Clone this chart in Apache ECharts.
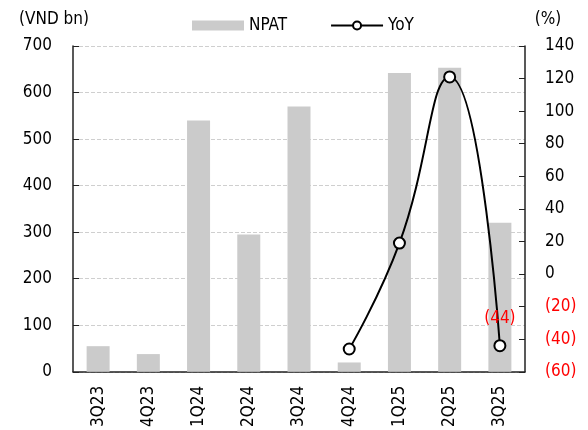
<!DOCTYPE html>
<html><head><meta charset="utf-8">
<script src="https://cdn.jsdelivr.net/npm/echarts@6/dist/echarts.min.js"></script>
<style>html,body{margin:0;padding:0;background:#fff}#c{width:588px;height:430px}</style>
</head><body><div id="c"></div>
<script>
const categories = ['3Q23','4Q23','1Q24','2Q24','3Q24','4Q24','1Q25','2Q25','3Q25'];
const npat = [55, 38, 540, 295, 570, 20, 642, 653, 320];
const yoy = [null, null, null, null, null, -46, 19, 121, -44];
const labelled = {8: '(44)'};
const F = 'DejaVu Sans Condensed';
const FS = 17;
const fmtNeg = v => v < 0 ? '(' + Math.abs(v) + ')' : String(v);
const chart = echarts.init(document.getElementById('c'));
chart.setOption({
  animation: false,
  textStyle: {fontFamily: F},
  grid: {left: 73, right: 63, top: 46, bottom: 57},
  legend: {
    top: 12, left: 187, itemGap: 43, itemWidth: 52, itemHeight: 10,
    textStyle: {fontFamily: F, fontSize: FS, color: '#000'},
    data: [{name: 'NPAT', icon: 'rect'}, {name: 'YoY'}]
  },
  xAxis: {
    type: 'category', data: categories,
    axisLine: {lineStyle: {color: '#222', width: 1.5}},
    axisTick: {inside: true, length: 6, lineStyle: {color: '#222'}},
    axisLabel: {rotate: 90, fontFamily: F, fontSize: FS, color: '#000', margin: 14}
  },
  yAxis: [{
    type: 'value', min: 0, max: 700, interval: 100,
    name: '(VND bn)', nameLocation: 'end', nameGap: 18,
    nameTextStyle: {fontFamily: F, fontSize: FS, color: '#000', align: 'center', padding: [0, 0, 0, -38]},
    axisLine: {show: true, lineStyle: {color: '#222', width: 1.5}},
    axisTick: {show: true, inside: true, length: 6, lineStyle: {color: '#222'}},
    axisLabel: {fontFamily: F, fontSize: FS, color: '#000', margin: 21},
    splitLine: {show: true, lineStyle: {color: '#cfcfcf', type: 'dashed'}}
  }, {
    type: 'value', min: -60, max: 140, interval: 20,
    name: '(%)', nameLocation: 'end', nameGap: 18,
    nameTextStyle: {fontFamily: F, fontSize: FS, color: '#000', align: 'center', padding: [0, 0, 0, 46]},
    axisLine: {show: true, lineStyle: {color: '#222', width: 1.5}},
    axisTick: {show: true, inside: true, length: 6, lineStyle: {color: '#222'}},
    axisLabel: {fontFamily: F, fontSize: FS, margin: 20, formatter: fmtNeg,
      color: v => (Number(v) < 0 ? '#ff0000' : '#000')},
    splitLine: {show: false}
  }],
  series: [{
    name: 'NPAT', type: 'bar', data: npat, barWidth: 23,
    itemStyle: {color: '#cbcbcb'}
  }, {
    name: 'YoY', type: 'line', yAxisIndex: 1, smooth: 0.5, connectNulls: false,
    data: yoy.map((v, i) => labelled[i] ? {value: v, label: {show: true, formatter: labelled[i]}} : v),
    symbol: 'circle', symbolSize: 11, showSymbol: true,
    lineStyle: {color: '#000', width: 2},
    itemStyle: {color: '#fff', borderColor: '#000', borderWidth: 2},
    label: {show: false, position: 'top', distance: 12, color: '#ff0000', fontFamily: F, fontSize: FS}
  }]
});
</script></body></html>
